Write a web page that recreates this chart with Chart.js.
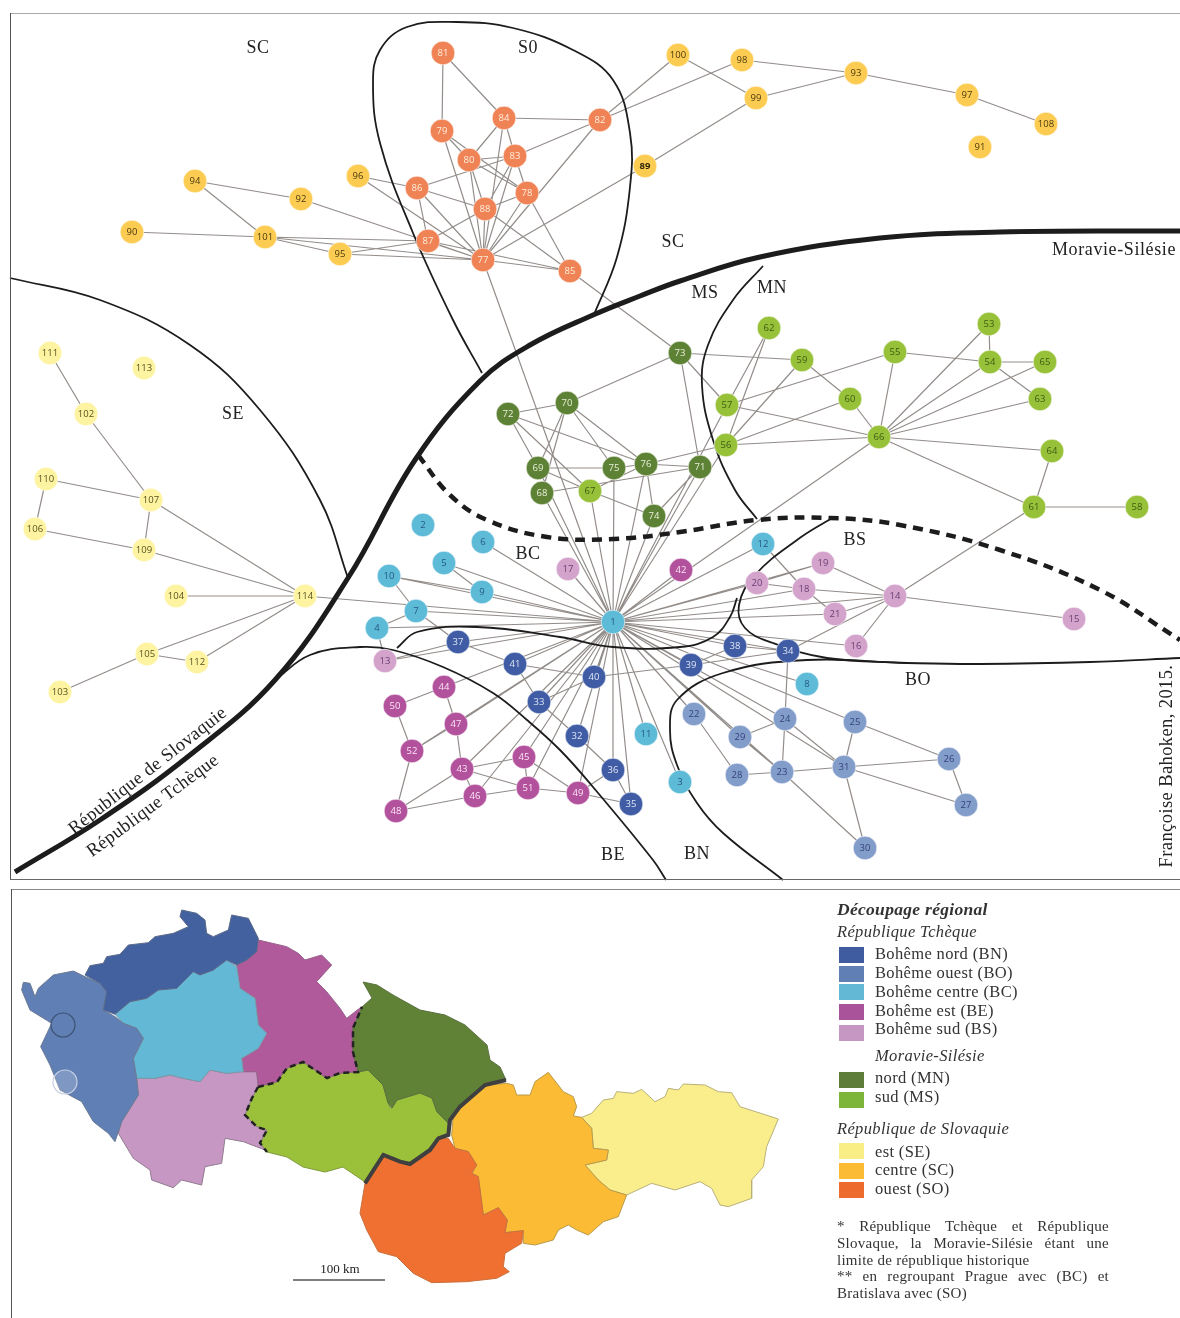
<!DOCTYPE html>
<html lang="fr"><head><meta charset="utf-8"><title>Découpage régional</title>
<script src="https://cdn.jsdelivr.net/npm/chart.js@4"></script>
<style>
html,body{margin:0;padding:0;background:#fff;width:1180px;height:1318px;overflow:hidden}
#wrap{position:relative;width:1180px;height:1318px}
canvas{position:absolute;left:0;top:0}
.t{position:absolute;font-family:"Liberation Serif",serif;color:#333;white-space:nowrap;line-height:18px;font-size:16.5px;letter-spacing:.35px}
.i{font-style:italic}.b{font-weight:bold}
.sw{position:absolute;width:25px;height:16px;left:839px}
.fn{position:absolute;left:837px;width:272px;font-family:"Liberation Serif",serif;font-size:15px;line-height:17px;color:#333;letter-spacing:.25px;white-space:nowrap}
.j{text-align:justify;text-align-last:justify;white-space:normal}
.fr{position:absolute;background:#666}
</style></head><body><div id="wrap"><canvas id="c" width="1180" height="1318"></canvas></div>
<script>
// ---------- network data (map coordinates) ----------
const nodeIds=[1,2,3,4,5,6,7,8,9,10,11,12,13,14,15,16,17,18,19,20,21,22,23,24,25,26,27,28,29,30,31,32,33,34,35,36,37,38,39,40,41,42,43,44,45,46,47,48,49,50,51,52,53,54,55,56,57,58,59,60,61,62,63,64,65,66,67,68,69,70,71,72,73,74,75,76,77,78,79,80,81,82,83,84,85,86,87,88,89,90,91,92,93,94,95,96,97,98,99,100,101,102,103,104,105,106,107,108,109,110,111,112,113,114];
const nodeX=[613,423,680,377,444,483,416,807,482,389,646,763,385,895,1074,856,568,804,823,757,835,694,782,785,855,949,966,737,740,865,844,577,539,788,631,613,458,735,691,594,515,681,462,444,524,475,456,396,578,395,528,412,989,990,895,726,727,1137,802,850,1034,769,1040,1052,1045,879,590,542,538,567,700,508,680,654,614,646,483,527,442,469,443,600,515,504,570,417,428,485,645,132,980,301,856,195,340,358,967,742,756,678,265,86,60,176,147,35,151,1046,144,46,50,197,144,305];
const nodeY=[622,525,782,628,563,542,611,684,592,576,734,544,661,596,619,646,569,589,563,583,614,714,772,719,722,759,805,775,737,848,767,736,702,651,804,770,642,646,665,677,664,570,769,687,757,796,724,811,793,706,788,751,324,362,352,445,405,507,360,399,507,328,399,451,362,437,491,493,468,403,467,414,353,516,468,464,260,193,131,160,53,120,156,118,271,188,241,209,166,232,147,199,73,181,254,176,95,60,98,55,237,414,692,596,654,529,500,124,550,479,353,662,368,596];
const groupBC=[1,2,3,4,5,6,7,8,9,10,11,12];
const groupBS=[13,14,15,16,17,18,19,20,21];
const groupBO=[22,23,24,25,26,27,28,29,30,31];
const groupBN=[32,33,34,35,36,37,38,39,40,41];
const groupBE=[42,43,44,45,46,47,48,49,50,51,52];
const groupMS=[53,54,55,56,57,58,59,60,61,62,63,64,65,66,67];
const groupMN=[68,69,70,71,72,73,74,75,76];
const groupSO=[77,78,79,80,81,82,83,84,85,86,87,88];
const groupSC=[89,90,91,92,93,94,95,96,97,98,99,100,101,108];
const groupSE=[102,103,104,105,106,107,109,110,111,112,113,114];
const hubLinks=[5,6,9,10,7,4,37,41,33,40,32,36,35,11,3,22,29,23,24,25,31,8,39,38,34,16,21,14,18,19,20,12,42,17,68,69,67,75,76,74,71,57,66,77,13,44,47,52,43,46,45,51,49,56,114];
const otherLinks=[[114,107],[114,109],[114,104],[114,105],[114,112],[107,102],[102,111],[107,110],[107,109],[109,106],[110,106],[105,103],[105,112],
[90,101],[94,101],[94,92],[92,77],[101,95],[101,87],[101,77],[95,77],[95,87],[96,86],[96,77],[100,82],[100,99],[82,98],[98,93],[99,93],[93,97],[97,108],[89,99],[89,77],
[81,79],[81,84],[84,82],[84,80],[84,83],[84,77],[79,80],[79,77],[79,78],[80,83],[80,78],[80,77],[80,88],[83,82],[83,86],[83,88],[83,77],[83,78],[86,88],[86,87],[86,77],[78,88],[78,77],[78,85],[82,77],[88,77],[88,85],[88,87],[87,77],[77,85],[87,85],[85,73],
[73,70],[73,59],[73,57],[73,71],[72,70],[72,69],[72,67],[72,76],[70,69],[70,68],[70,75],[70,76],[69,75],[69,67],[68,71],[67,74],[67,76],[75,76],[76,74],[76,71],[76,56],[71,74],
[57,62],[57,55],[57,66],[56,62],[56,59],[56,60],[56,66],[59,60],[60,66],[55,66],[66,53],[66,54],[66,65],[66,63],[66,64],[66,61],[53,54],[54,65],[54,63],[55,54],[64,61],[61,58],[61,14],
[14,15],[14,19],[14,18],[14,21],[14,16],[14,34],[18,20],[19,20],[18,21],[12,18],[38,39],[38,34],[39,34],[34,24],[39,40],[37,41],[37,13],[7,37],[41,40],[41,33],[33,40],[33,32],[32,36],[36,35],[36,49],[49,35],[49,51],[49,45],[4,7],[4,13],[10,7],[10,9],[5,9],
[44,50],[44,47],[50,52],[47,52],[47,43],[52,48],[43,48],[43,45],[43,51],[43,46],[46,48],[46,51],[45,51],
[22,28],[24,29],[24,23],[24,31],[25,31],[25,26],[23,28],[23,31],[23,30],[29,23],[31,26],[31,27],[31,30],[26,27]];

// ---------- region limits on the network map ----------
const limitRepublic=[[15,872],[100,820],[190,755],[275,680],[348,578],[415,460],[480,381],[530,345],[593,315],[640,296],[680,281],[760,257],[880,238],[1000,232],[1180,231]];
const limitSE=[[10,278],[100,300],[190,345],[260,410],[320,500],[348,578]];
const limitBE=[[275,680],[310,655],[360,647],[393,650],[443,667],[493,693],[527,720],[560,750],[593,787],[653,860],[666,880]];
const limitBC=[[397,648],[417,632],[477,627],[560,637],[613,647],[680,647],[713,637],[730,617],[737,598]];
const limitBS=[[832,518],[797,540],[755,575],[739,605],[745,628],[773,643],[827,658],[907,663]];
const limitBO=[[783,880],[723,833],[697,803],[677,765],[670,730],[677,700],[723,673],[807,660],[907,663],[980,664],[1090,662],[1180,658]];
const limitMN=[[763,266],[733,300],[708,345],[702,385],[713,440],[735,490],[757,519]];
const limitSO=[[482,373],[453,320],[413,233],[380,143],[373,83],[380,50],[407,27],[457,22],[513,28],[573,50],[613,80],[630,133],[630,187],[617,257],[593,317]];
const limitMoravia=[[418,455],[450,495],[487,520],[547,537],[613,539],[680,532],[757,520],[830,518],[900,525],[1000,550],[1100,590],[1180,640]];

// ---------- regional map outlines ----------
const shapeBN=[[225,240],[240,212],[280,205],[290,185],[330,178],[355,150],[415,143],[435,125],[490,115],[535,95],[510,65],[515,45],[560,55],[585,75],[590,115],[610,125],[655,105],[665,60],[715,70],[745,130],[740,170],[710,195],[680,210],[650,195],[610,225],[570,240],[550,230],[500,280],[445,285],[410,310],[360,320],[315,358],[280,345],[290,290],[270,265],[225,240]];
const shapeBO=[[40,262],[60,265],[75,305],[85,280],[130,240],[190,228],[225,245],[270,265],[290,290],[280,345],[315,365],[340,385],[380,400],[400,430],[370,490],[380,550],[385,600],[360,640],[335,680],[315,740],[295,715],[250,680],[215,620],[150,585],[120,510],[92,455],[125,385],[60,345],[35,285],[40,262]];
const shapeBC=[[315,358],[360,320],[410,310],[445,285],[500,280],[550,230],[570,240],[610,225],[650,195],[680,215],[690,280],[735,310],[745,390],[770,415],[745,460],[695,490],[700,530],[650,535],[600,525],[570,560],[520,550],[480,540],[435,550],[380,550],[370,490],[400,430],[380,400],[340,385],[315,358]];
const shapeBE=[[680,210],[710,195],[745,135],[830,155],[865,175],[885,195],[935,180],[965,210],[920,260],[950,290],[990,340],[1010,370],[1055,335],[1030,400],[1030,470],[1045,530],[990,535],[950,550],[880,500],[830,520],[800,560],[745,575],[740,530],[700,530],[695,490],[745,460],[770,415],[745,390],[735,310],[690,280],[680,210]];
const shapeBS=[[380,550],[435,550],[480,540],[520,550],[570,560],[600,525],[650,535],[700,530],[740,530],[745,575],[725,610],[705,660],[740,695],[770,705],[750,745],[765,765],[700,740],[645,730],[635,805],[585,815],[575,870],[515,855],[490,878],[425,855],[420,825],[370,790],[325,715],[335,680],[360,640],[385,600],[380,550]];
const shapeMS=[[258,1087],[277,1082],[287,1068],[303,1062],[327,1078],[340,1073],[358,1072],[368,1070],[383,1085],[390,1108],[392,1108],[397,1100],[420,1093],[432,1098],[437,1112],[448,1123],[448,1133],[438,1137],[430,1148],[410,1163],[400,1160],[383,1153],[365,1182],[343,1167],[325,1172],[303,1167],[287,1157],[267,1152],[260,1143],[267,1130],[257,1127],[245,1115],[252,1098],[258,1087]];
const shapeMN=[[363,982],[377,985],[393,995],[420,1010],[445,1015],[465,1025],[487,1045],[490,1060],[500,1067],[506,1080],[487,1083],[460,1107],[448,1123],[437,1112],[432,1098],[420,1093],[397,1100],[392,1108],[388,1103],[383,1085],[368,1070],[358,1072],[353,1052],[353,1028],[362,1007],[372,998],[363,982]];
const shapeSO=[[45,430],[100,345],[150,365],[180,372],[240,330],[265,295],[295,295],[315,325],[355,335],[380,375],[365,400],[385,410],[400,525],[445,503],[472,540],[465,578],[520,572],[515,610],[465,640],[460,680],[478,695],[440,715],[350,725],[245,728],[190,700],[140,650],[85,635],[50,570],[30,520],[45,430]];
const shapeSC=[[310,225],[335,200],[410,135],[470,130],[490,135],[500,165],[540,165],[555,125],[595,97],[640,155],[670,170],[680,200],[670,228],[695,232],[725,265],[730,325],[775,330],[770,360],[705,375],[745,420],[780,450],[830,465],[805,530],[760,545],[715,585],[680,570],[655,555],[625,570],[610,600],[555,615],[520,610],[520,572],[465,578],[472,540],[445,503],[400,525],[385,410],[365,400],[380,375],[355,335],[315,325],[305,285],[310,225]];
const shapeSE=[[695,232],[725,220],[760,180],[790,175],[800,155],[850,160],[875,148],[915,185],[945,170],[955,145],[985,150],[1000,132],[1065,135],[1105,155],[1145,158],[1170,200],[1285,237],[1250,320],[1240,380],[1205,420],[1205,475],[1135,500],[1110,495],[1085,445],[1050,425],[975,450],[905,430],[830,465],[780,450],[745,420],[705,375],[770,360],[775,330],[730,325],[725,265],[695,232]];
const mapRepublicBorder=[[45,430],[100,345],[150,365],[180,372],[240,330],[265,295],[295,285],[300,240],[330,200],[405,135],[468,120]];
const mapMoraviaBorder=[[252,1098],[245,1115],[257,1127],[267,1130],[260,1143],[267,1152]];
const mapMoraviaBorder2=[[258,1087],[252,1098]];
const mapMoraviaBorder3=[[258,1087],[277,1082],[287,1068],[303,1062],[327,1078],[340,1073],[358,1072],[353,1052],[353,1028],[362,1007]];
const mapCircleDark=[[63,1025]];
const mapCircleLight=[[65,1082]];
const scaleBar=[[293,1280],[385,1280]];

// ---------- texts ----------
const regionTexts=["SC","S0","SC","Moravie-Silésie","MS","MN","SE","BC","BS","BO","BE","BN"];
const regionTextX=[258,528,673,1114,705,772,233,528,855,918,613,697];
const regionTextY=[48,48,242,250,293,288,414,554,540,680,855,854];
const legendGroups=["Bohême nord (BN)","Bohême ouest (BO)","Bohême centre (BC)","Bohême est (BE)","Bohême sud (BS)","nord (MN)","sud (MS)","est (SE)","centre (SC)","ouest (SO)"];
const legendColors=["#3F5CA0","#5F7FB5","#63B8D6","#A9539B","#C597C2","#5F7D3A","#7DB53A","#F9EE85","#FBBB35","#EE6B2E"];

// ---------- styling & building ----------
const styleOf={BC:["#5EBBD8","#26597f"],BS:["#D3A3CC","#6a3f72"],BO:["#839DCB","#34437c"],BN:["#3F5CA4","#dfe6f5"],BE:["#B2529D","#fbe6f5"],MS:["#98C13A","#3f5a12"],MN:["#5E8235","#e9f0da"],SO:["#EF8355","#ffeedd"],SC:["#FCCC52","#4a3a10"],SE:["#FDF3A1","#5a5320"]};
const groups={BC:groupBC,BS:groupBS,BO:groupBO,BN:groupBN,BE:groupBE,MS:groupMS,MN:groupMN,SO:groupSO,SC:groupSC,SE:groupSE};
const at=id=>{const i=nodeIds.indexOf(id);return {x:nodeX[i],y:nodeY[i]}};
const P=a=>a.map(([x,y])=>({x,y}));
const Z5=a=>a.map(([x,y])=>({x:x/3+10,y:y/3+895}));
const Z6=a=>a.map(([x,y])=>({x:x/3+350,y:y/3+1040}));
const edgeData=[];
hubLinks.forEach(n=>edgeData.push(at(1),at(n),{x:NaN,y:NaN}));
otherLinks.forEach(([a,b])=>edgeData.push(at(a),at(b),{x:NaN,y:NaN}));
const curve=(label,pts,w,order,extra)=>Object.assign({label,data:P(pts),showLine:true,pointRadius:0,borderColor:"#1c1c1c",borderWidth:w,tension:.4,fill:false,order},extra||{});
const shape=(label,pts,col,edge,order)=>({label,data:pts,showLine:true,pointRadius:0,backgroundColor:col,borderColor:edge,borderWidth:1,tension:0,fill:"shape",order});
const datasets=[];
Object.keys(groups).forEach(k=>datasets.push({label:k,data:groups[k].map(at),showLine:false,pointRadius:11.8,pointHoverRadius:11.8,pointBackgroundColor:styleOf[k][0],pointBorderColor:"rgba(255,255,255,.55)",pointBorderWidth:1,order:1}));
datasets.push(curve("Tchéquie–Slovaquie",limitRepublic,5,2),curve("SE",limitSE,1.8,3),curve("BE",limitBE,1.8,3),curve("BC",limitBC,1.8,3),curve("BS",limitBS,1.8,3),curve("BO",limitBO,1.8,3),curve("MN",limitMN,1.8,3),curve("SO",limitSO,1.8,3),curve("Moravie",limitMoravia,4.5,2,{borderDash:[10,7]}));
datasets.push({label:"liens",data:edgeData,showLine:true,pointRadius:0,borderColor:"#938d8a",borderWidth:1.2,spanGaps:false,tension:0,order:5});
datasets.push(
 {label:"c1",data:P(mapCircleDark),showLine:false,pointRadius:12,pointBackgroundColor:"rgba(0,0,0,0)",pointBorderColor:"#3e5273",pointBorderWidth:1.2,order:6},
 {label:"c2",data:P(mapCircleLight),showLine:false,pointRadius:12,pointBackgroundColor:"rgba(255,255,255,.2)",pointBorderColor:"#c6d0e3",pointBorderWidth:1.2,order:6},
 {label:"frontière",data:Z6(mapRepublicBorder),showLine:true,pointRadius:0,borderColor:"#3f3f3f",borderWidth:4,tension:0,order:7},
 {label:"limite1",data:P(mapMoraviaBorder3),showLine:true,pointRadius:0,borderColor:"#222",borderWidth:2.5,borderDash:[6,4],tension:0,order:7},
 {label:"limite2",data:P(mapMoraviaBorder2.concat(mapMoraviaBorder)),showLine:true,pointRadius:0,borderColor:"#222",borderWidth:2.5,borderDash:[6,4],tension:0,order:7},
 {label:"échelle",data:P(scaleBar),showLine:true,pointRadius:0,borderColor:"#555",borderWidth:1.6,tension:0,order:7},
 shape("BN",Z5(shapeBN),"#44619F","#5a6a8a",9),shape("BO",Z5(shapeBO),"#5F7FB5","#6a7a94",9),shape("BC",Z5(shapeBC),"#63B8D6","#7a9aa8",9),shape("BE",Z5(shapeBE),"#B05A9B","#96608a",9),shape("BS",Z5(shapeBS),"#C597C2","#927a90",9),
 shape("MS",P(shapeMS),"#9BC03A","#7f9a3a",9),shape("MN",P(shapeMN),"#5F8236","#5a7040",8),
 shape("SO",Z6(shapeSO),"#EF7031","#c9703d",9),shape("SC",Z6(shapeSC),"#FBBB35","#b89a4a",9),shape("SE",Z6(shapeSE),"#FAEE8C","#b8b078",9)
);
const textPlugin={id:"texts",afterDatasetsDraw(ch){
 const c=ch.ctx,sx=ch.scales.x,sy=ch.scales.y;
 c.save();c.textAlign="center";c.textBaseline="middle";
 Object.keys(groups).forEach(k=>groups[k].forEach(id=>{
  const p=at(id);
  c.fillStyle=id===89?"#2e2508":styleOf[k][1];
  c.font=(id===89?"bold ":"")+'9.5px "Open Sans",sans-serif';
  c.fillText(String(id),sx.getPixelForValue(p.x),sy.getPixelForValue(p.y));
 }));
 c.fillStyle="#222";c.font='18px "Liberation Serif",serif';c.letterSpacing="0.6px";
 regionTexts.forEach((t,i)=>c.fillText(t,sx.getPixelForValue(regionTextX[i]),sy.getPixelForValue(regionTextY[i])));
 const rot=(t,x,y,a,f)=>{c.save();c.translate(sx.getPixelForValue(x),sy.getPixelForValue(y));c.rotate(a*Math.PI/180);c.font=f;c.fillText(t,0,0);c.restore();};
 c.letterSpacing="0.4px";
 rot("République de Slovaquie",148,771,-38,'18.5px "Liberation Serif",serif');
 rot("République Tchèque",153,806,-36.7,'18.5px "Liberation Serif",serif');
 rot("Françoise Bahoken, 2015.",1167,766,-90,'18.5px "Liberation Serif",serif');
 c.letterSpacing="0px";
 c.font='13px "Liberation Serif",serif';c.fillText("100 km",sx.getPixelForValue(340),sy.getPixelForValue(1270));
 c.restore();
}};
new Chart(document.getElementById("c"),{type:"scatter",data:{datasets},plugins:[textPlugin],options:{
 responsive:false,animation:false,events:[],layout:{padding:0,autoPadding:false},
 plugins:{legend:{display:false},tooltip:{enabled:false}},
 scales:{x:{type:"linear",display:false,min:0,max:1180},y:{type:"linear",display:false,min:0,max:1318,reverse:true}}
}});
// ---------- legend block and frame ----------
const wrap=document.getElementById("wrap");
const add=(cls,txt,css)=>{const d=document.createElement("div");d.className=cls;if(txt)d.textContent=txt;d.style.cssText=css;wrap.appendChild(d);return d};
[[10,13,1170,1,"#aaa"],[10,13,1,866,"#555"],[10,879,1170,1,"#666"],[11,889,1169,1,"#888"],[11,889,1,429,"#555"]].forEach(([l,t,w,h,c])=>add("fr","",`left:${l}px;top:${t}px;width:${w}px;height:${h}px;background:${c}`));
const legY=[954,973,992,1011,1029,1078,1097,1152,1170,1189],swY=[947,966,984,1004,1025,1072,1092,1143,1163,1182];
legendGroups.forEach((t,i)=>{add("sw","",`top:${swY[i]}px;background:${legendColors[i]}`);add("t",t,`left:875px;top:${legY[i]-9}px`)});
add("t i b","Découpage régional","left:837px;top:900px;font-size:17.5px;letter-spacing:.3px");
add("t i","République Tchèque","left:837px;top:923px");
add("t i","Moravie-Silésie","left:875px;top:1047px");
add("t i","République de Slovaquie","left:837px;top:1120px");
add("fn j","* République  Tchèque  et  République","top:1218px");
add("fn j","Slovaque, la Moravie-Silésie étant une","top:1235px");
add("fn","limite de république historique","top:1252px");
add("fn j","** en regroupant  Prague avec (BC) et","top:1268px");
add("fn","Bratislava avec (SO)","top:1285px");
</script></body></html>
